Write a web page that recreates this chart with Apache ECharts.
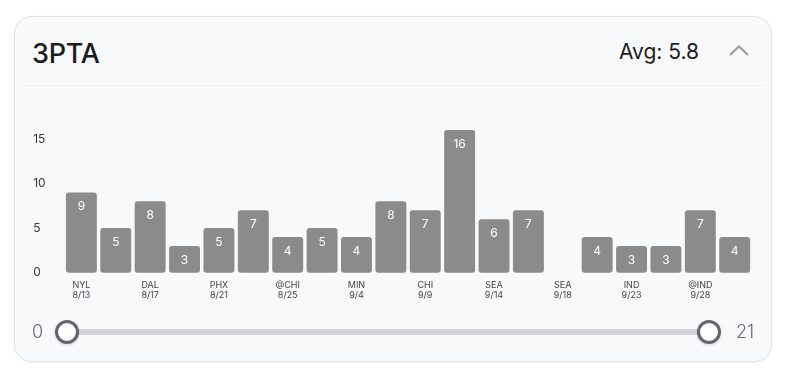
<!DOCTYPE html>
<html>
<head>
<meta charset="utf-8">
<script src="https://cdn.jsdelivr.net/npm/echarts@6/dist/echarts.min.js"></script>
<style>
  html, body { margin: 0; padding: 0; width: 794px; height: 386px; background: #ffffff; overflow: hidden; font-family: Inter, "Noto Sans", sans-serif; }
  #card { position: absolute; left: 13.5px; top: 16px; width: 758px; height: 346px; border: 1.5px solid #e2e3e6; border-radius: 18px; background: #f8f9fb; box-shadow: 0 1px 3px rgba(0,0,0,0.06); box-sizing: border-box; }
  #title { position: absolute; left: 32px; top: 37px; font-size: 27px; line-height: 34px; font-weight: 500; color: #1c1c1e; letter-spacing: -0.3px; }
  #avg { position: absolute; right: 95px; top: 39px; font-size: 21px; line-height: 26px; font-weight: 400; color: #1c1c1e; }
  #chev { position: absolute; left: 728px; top: 44px; }
  #sep { position: absolute; left: 21px; top: 84.5px; width: 745px; height: 1px; background: #eeeff2; }
  #chart { position: absolute; left: 0; top: 0; width: 794px; height: 386px; }
  #track { position: absolute; left: 66px; top: 329px; width: 643px; height: 6px; background: #d3d4da; border-radius: 3px; }
  .handle { position: absolute; width: 24px; height: 24px; box-sizing: border-box; border: 3px solid #65656d; border-radius: 50%; background: #ffffff; box-shadow: 0 1px 3px rgba(0,0,0,0.15); top: 320px; }
  .slab { position: absolute; font-size: 18px; line-height: 22px; color: #6a6a70; font-weight: 300; top: 321px; }
</style>
</head>
<body>
<div id="card"></div>
<div id="title">3PTA</div>
<div id="avg"></div>
<svg id="chev" width="22" height="14" viewBox="0 0 22 14"><polyline points="2,11 11,2.5 20,11" fill="none" stroke="#9a9a9e" stroke-width="2"/></svg>
<div id="sep"></div>
<div id="chart"></div>
<div id="track"></div>
<div class="handle" style="left:54.7px"></div>
<div class="handle" style="left:697px"></div>
<div class="slab" style="left:32px">0</div>
<div class="slab" style="left:736px">21</div>
<script>
// ---- data ----
const opponents = ["NYL","","DAL","","PHX","","@CHI","","MIN","","CHI","","SEA","","SEA","","IND","","@IND",""];
const dates     = ["8/13","","8/17","","8/21","","8/25","","9/4","","9/9","","9/14","","9/18","","9/23","","9/28",""];
const values    = [9,5,8,3,5,7,4,5,4,8,7,16,6,7,0,4,3,3,7,4];
const yTicks    = [0,5,10,15];
const sliderRange = [0, 21];

const avg = values.reduce((a,b)=>a+b,0) / values.length;
document.getElementById('avg').textContent = 'Avg: ' + avg.toFixed(1);

const categories = values.map((v,i) => opponents[i] + '\n' + dates[i] + '#' + i);

const chart = echarts.init(document.getElementById('chart'), null, {renderer: 'canvas'});
chart.setOption({
  backgroundColor: 'transparent',
  animation: false,
  grid: { left: 64.2, right: 42.1, top: 130, bottom: 113.3 },
  xAxis: {
    type: 'category',
    data: categories,
    axisLine: { show: false },
    axisTick: { show: false },
    axisLabel: {
      interval: 0,
      margin: 7,
      fontSize: 9,
      lineHeight: 10.5,
      color: '#444448',
      fontFamily: 'Inter',
      formatter: v => v.split('#')[0]
    }
  },
  yAxis: {
    type: 'value',
    min: 0,
    max: 16,
    interval: 5,
    splitLine: { show: false },
    axisLine: { show: false },
    axisTick: { show: false },
    axisLabel: {
      align: 'left',
      margin: 31,
      fontSize: 12,
      padding: [3, 0, 0, 0],
      color: '#3a3a3e',
      fontFamily: 'Inter',
      showMaxLabel: false,
      formatter: v => yTicks.indexOf(v) >= 0 ? String(v) : ''
    }
  },
  series: [{
    type: 'bar',
    data: values,
    barWidth: '90%',
    itemStyle: { color: '#8b8b8b', borderRadius: 3 },
    label: {
      show: true,
      position: 'insideTop',
      distance: 8,
      color: '#ffffff',
      fontSize: 12,
      fontFamily: 'Inter',
      formatter: p => p.value ? String(p.value) : ''
    }
  }]
});
</script>
</body>
</html>
